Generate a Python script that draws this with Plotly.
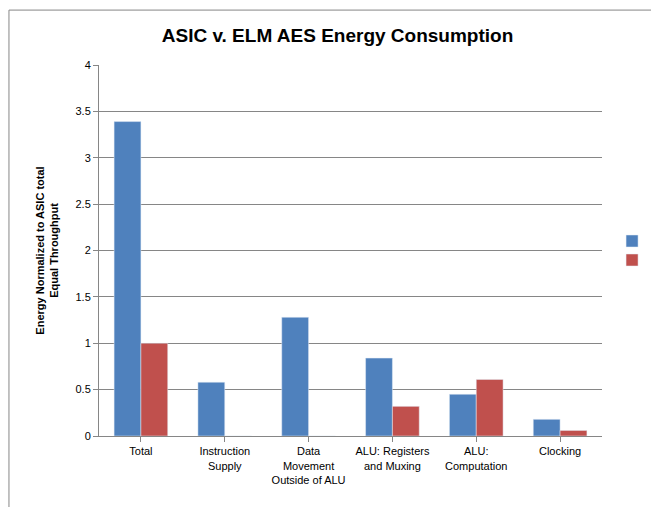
import plotly.graph_objects as go

categories = ["Total", "Instruction<br>Supply", "Data<br>Movement<br>Outside of ALU", "ALU: Registers<br>and Muxing", "ALU:<br>Computation", "Clocking"]
ce = [3.39, 0.58, 1.28, 0.84, 0.45, 0.18]
asic = [1.0, 0.0, 0.0, 0.32, 0.61, 0.06]
yticks = [0, 0.5, 1, 1.5, 2, 2.5, 3, 3.5, 4]
yticklabels = ["0", "0.5", "1", "1.5", "2", "2.5", "3", "3.5", "4"]

fig = go.Figure()
fig.add_bar(x=categories, y=ce, name="CE", marker_color="#4F81BD")
fig.add_bar(x=categories, y=asic, name="ASIC", marker_color="#C0504D")
fig.update_layout(
    width=659, height=507, paper_bgcolor="white", plot_bgcolor="white",
    font=dict(family="Liberation Sans, Arial", size=11, color="black"),
    title=dict(text="<b>ASIC v. ELM AES Energy Consumption</b>", x=0.5, y=0.947, xanchor="center", yanchor="middle",
               font=dict(size=19, family="Liberation Sans, Arial")),
    margin=dict(l=91, r=65, t=57, b=79, autoexpand=False),
    bargap=0.36, bargroupgap=0,
    legend=dict(x=1.02, y=0.5, yanchor="middle", font=dict(size=11), bgcolor="rgba(0,0,0,0)"),
    xaxis=dict(showline=True, linecolor="#868686", ticks="outside", tickcolor="#868686", tickangle=0,
               tickfont=dict(size=11), automargin=False),
    yaxis=dict(range=[0, 4], tickvals=yticks, ticktext=yticklabels, showgrid=True, gridcolor="#868686",
               showline=True, linecolor="#868686", ticks="outside", tickcolor="#868686", automargin=False,
               title=dict(text="<b>Energy Normalized to ASIC total<br>Equal Throughput</b>", font=dict(size=11), standoff=14)),
    shapes=[dict(type="rect", xref="paper", yref="paper", x0=-0.179, x1=1.125, y0=-0.207, y1=1.148,
                 line=dict(color="#868686", width=1))],
)
fig.write_html("out.html")
